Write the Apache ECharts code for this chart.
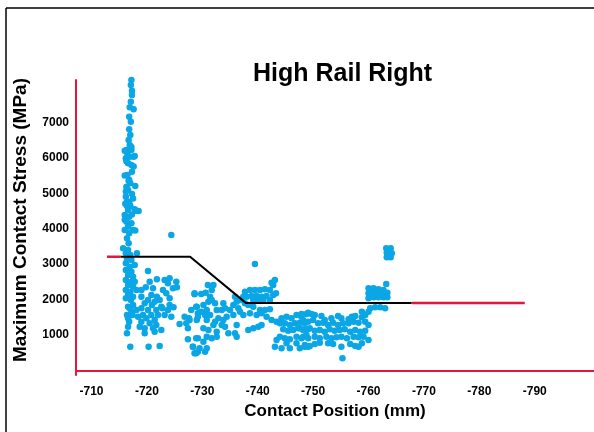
<!DOCTYPE html>
<html>
<head>
<meta charset="utf-8">
<script src="https://cdn.jsdelivr.net/npm/echarts@6/dist/echarts.min.js"></script>
<style>html,body{margin:0;padding:0;background:#fff}#c{width:594px;height:432px}</style>
</head>
<body>
<div id="c"></div>
<script>
const titleText = 'High Rail Right';
const xAxisName = 'Contact Position (mm)';
const yAxisName = 'Maximum Contact Stress (MPa)';
const xTicks = [-710, -720, -730, -740, -750, -760, -770, -780, -790];
const yTicks = [1000, 2000, 3000, 4000, 5000, 6000, 7000];

// threshold line
const thresholdX = [-712.8, -715.2, -727.8, -737.9, -767.8, -788.2];
const thresholdY = [3210, 3210, 3210, 1900, 1900, 1900];

// measured contact points, grouped by region
const spikePoints = [
[-717.2,8568],[-717.0,8427],[-717.2,8192],[-717.1,8051],[-717.3,7891],[-717.3,7769],[-717.1,7581],[-716.9,7422],[-717.6,7366],[-716.8,7158],[-717.1,7017],[-716.8,6801],[-717.0,6641],[-716.7,6500],[-716.9,6359],[-716.3,6218],[-717.2,6218],[-716.2,5983],[-716.9,6030],[-717.6,6030],[-716.6,5842],[-717.2,5795],[-717.3,5607],[-716.5,5513],[-716.8,5372],[-717.0,5278],[-716.3,5184],[-716.6,5090],[-717.3,4977],[-716.2,4902],[-716.8,4761],[-716.4,4639],[-717.0,4639],[-717.8,4545],
[-716.0,6200],[-717.8,6050],[-716.3,5900],[-717.6,5750],[-716.0,5500],[-717.9,5200],[-716.2,5050],[-717.5,4850],[-716.1,4700],[-717.3,4400],[-716.0,4250],[-717.9,3950],[-718.5,4500],[-716.5,6100],[-717.2,6300],[-716.7,5350],
[-716.4,4761],[-716.9,4667],[-716.6,4526],[-718.0,4507],[-716.0,4385],[-716.8,4338],[-716.3,4197],[-717.2,4150],[-716.6,4056],[-716.0,3962],[-717.5,3962],[-716.8,3868],[-716.4,3727],[-716.7,3586],[-715.7,3445],[-716.6,3398],[-716.2,3304],[-717.0,3257],[-718.2,3304],[-716.4,3163],[-717.2,3116],[-716.2,3022],[-716.9,2928],[-717.8,2975],[-716.2,2834],[-717.2,2787],[-716.6,2693],[-717.5,2646],[-716.2,2552],[-717.2,2505],[-717.8,2505],[-716.6,2411],[-717.5,2364],[-716.2,2270],[-717.0,2223],[-718.1,2270],[-716.6,2129],[-717.5,2082],[-716.2,2035],[-717.1,1988],[-716.8,2082],
[-716.6,1800],[-717.2,1659],[-716.4,1565],[-717.5,1847],[-716.8,1377]
];
const leftClusterPoints = [
[-720.2,2806],[-719.0,2270],[-720.5,2505],[-721.8,2571],[-719.8,2345],[-721.1,2317],[-723.2,2552],[-724.1,2599],[-725.3,2505],[-723.8,2458],[-724.7,2317],[-725.4,2345],[-722.9,2270],[-720.8,2129],[-721.8,2082],[-722.3,1988],[-724.1,2035],[-723.5,2176],[-719.0,2082],[-720.2,1988],[-721.4,1941],[-719.6,1894],[-720.9,1847],[-722.6,1800],[-724.1,1847],[-724.8,1781],[-716.9,1753],[-718.1,1706],[-719.0,1753],[-720.2,1706],[-721.7,1706],[-722.8,1753],[-723.8,1706],[-717.4,1565],[-718.4,1518],[-719.3,1565],[-720.8,1565],[-722.0,1565],[-723.2,1565],[-724.4,1518],[-716.6,1471],[-719.9,1471],[-721.4,1424],[-719.0,1377],[-720.5,1330],[-721.7,1283],[-718.7,1236],[-719.6,1189],[-721.1,1189],[-722.6,1142],[-716.6,1236],[-716.4,1048],[-719.6,1048],[-721.4,1095],[-717.0,672],[-720.3,672],[-722.3,691],[-724.4,3821],
[-726.8,1518],[-727.6,1471],[-725.9,1311],[-727.1,1330],[-727.4,1189],[-728.6,2148],[-729.0,1800],[-729.2,1612],[-729.0,1424],[-727.4,879],[-728.3,672],[-728.6,484],[-729.2,531],[-729.2,907]
];
const midClusterPoints = [
[-739.5,3003],[-728.6,2176],[-729.8,2157],[-730.6,2195],[-731.0,2411],[-732.0,2411],[-731.7,2270],[-731.4,2082],[-728.9,1800],[-730.2,1847],[-730.8,1706],[-731.1,1941],[-731.7,1988],[-732.3,1894],[-729.8,1659],[-729.2,1518],[-730.5,1565],[-731.4,1565],[-732.6,1706],[-733.8,1894],[-733.5,1706],[-734.1,1753],[-735.0,1706],[-735.6,1847],[-735.9,2082],[-736.2,1941],[-736.5,1753],[-736.8,1988],[-737.4,2082],[-737.7,1894],[-736.8,1659],[-737.4,1565],[-735.6,1565],[-734.4,1518],[-733.8,1424],[-732.9,1471],[-732.3,1377],[-730.8,1424],[-730.2,1189],[-731.1,1142],[-732.0,1283],[-732.6,1095],[-733.5,1283],[-734.1,1236],[-734.7,1048],[-735.9,1048],[-736.2,1283],[-730.8,954],[-731.7,907],[-732.6,954],[-728.9,907],[-730.2,813],[-728.3,672],[-729.5,625],[-730.8,625],[-728.9,484],[-730.5,531],[-727.7,1424],[-728.0,1706],[-736.2,954],
[-737.7,2223],[-738.6,2270],[-739.5,2270],[-740.4,2270],[-741.3,2289],[-742.2,2270],[-742.8,2411],[-743.1,2552],[-742.5,2477],[-738.0,2082],[-738.9,2101],[-739.8,2101],[-740.7,2082],[-741.6,2101],[-742.8,2129],[-743.3,2176],[-739.2,1988],[-740.1,1988],[-741.0,1969],[-742.2,1988],[-738.3,1847],[-739.2,1800],[-740.4,1706],[-741.3,1706],[-742.2,1725],[-738.6,1612],[-739.8,1565],[-740.7,1612],[-741.6,1518],[-742.5,1424],[-743.4,1377],[-744.0,1330],[-738.3,1142],[-739.2,1189],[-740.1,1236],[-740.7,1283]
];
const rightClusterPoints = [
[-744.3,1471],[-745.2,1518],[-746.1,1471],[-747.0,1565],[-747.9,1518],[-748.8,1593],[-744.9,1330],[-745.8,1283],[-746.7,1330],[-747.6,1349],[-748.5,1330],[-744.6,1161],[-745.5,1123],[-746.4,1142],[-747.3,1189],[-748.2,1142],[-749.1,1161],[-744.0,954],[-744.9,907],[-745.8,879],[-747.0,954],[-747.9,907],[-748.8,1001],[-743.4,860],[-745.2,766],[-747.0,766],[-748.5,719],[-743.1,672],[-744.3,625],[-745.8,625],[-747.6,625],[-749.1,672],
[-747.9,1593],[-749.1,1631],[-749.7,1593],[-750.3,1565],[-751.5,1537],[-752.1,1424],[-753.3,1471],[-754.5,1537],[-755.1,1471],[-756.4,1443],[-757.0,1518],[-757.6,1537],[-758.8,1499],[-759.4,1565],[-758.8,1659],[-760.0,1659],
[-748.2,1424],[-749.1,1377],[-750.0,1424],[-750.9,1330],[-751.8,1349],[-752.7,1283],[-753.6,1349],[-754.5,1283],[-755.4,1330],[-756.4,1330],[-757.3,1377],[-758.2,1349],[-759.4,1377],[-760.0,1283],
[-747.6,1189],[-748.5,1161],[-749.4,1189],[-750.3,1123],[-751.2,1142],[-752.1,1095],[-753.0,1161],[-753.9,1123],[-754.8,1142],[-755.7,1161],[-756.7,1095],[-757.6,1142],[-758.5,1095],[-759.4,1123],
[-748.2,954],[-749.1,907],[-750.3,954],[-751.2,907],[-752.4,954],[-753.3,907],[-754.2,935],[-755.1,954],[-756.1,907],[-757.3,954],[-758.2,935],[-759.1,954],[-760.0,860],
[-748.5,672],[-749.4,691],[-750.3,747],[-751.2,785],[-752.7,766],[-753.6,747],[-755.1,672],[-756.7,747],[-757.6,691],[-758.2,672],[-758.8,766],[-755.3,343]
];
const endClusterPoints = [
[-763.2,3445],[-764.0,3445],[-763.3,3323],[-764.2,3304],[-763.3,3191],[-764.0,3191],
[-760.0,2317],[-760.9,2317],[-761.8,2289],[-762.7,2270],[-763.2,2439],[-760.0,2176],[-760.9,2176],[-761.8,2195],[-762.7,2176],[-763.4,2195],[-760.0,2035],[-760.9,2063],[-761.8,2063],[-762.7,2063],[-763.4,2063],
[-761.2,1781],[-762.1,1781],[-763.0,1753],[-760.3,1753]
];

const chart = echarts.init(document.getElementById('c'));
const blue = '#0aa6e6';
const red = '#e3173d';
const scatterSeries = (name, data) => ({
  name, type: 'scatter', data, symbolSize: 6.5, z: 2,
  itemStyle: { color: blue, opacity: 1 }
});
const thresholdPts = thresholdX.map((x, i) => [x, thresholdY[i]]);
const plain = v => String(v);

chart.setOption({
  animation: false,
  backgroundColor: '#fff',
  title: {
    text: titleText, left: 248, top: 57,
    textStyle: { fontFamily: 'Liberation Sans, Arial, sans-serif', fontWeight: 'bold', fontSize: 25, color: '#000' }
  },
  grid: { left: 76, right: 0, top: 80, bottom: 57, containLabel: false },
  xAxis: {
    type: 'value', inverse: true, min: -800.7, max: -707.2,
    name: xAxisName, nameLocation: 'middle', nameGap: 24,
    nameTextStyle: { fontFamily: 'Liberation Sans, Arial, sans-serif', fontWeight: 'bold', fontSize: 17, color: '#000' },
    axisLine: { show: true, lineStyle: { color: red, width: 2 } },
    axisTick: { show: false },
    splitLine: { show: false },
    axisLabel: {
      customValues: xTicks, margin: 11, formatter: plain,
      fontFamily: 'Liberation Sans, Arial, sans-serif', fontWeight: 'bold', fontSize: 12, color: '#000'
    }
  },
  yAxis: {
    type: 'value', min: -127, max: 8192,
    name: yAxisName, nameLocation: 'middle', nameGap: 46,
    nameTextStyle: { fontFamily: 'Liberation Sans, Arial, sans-serif', fontWeight: 'bold', fontSize: 19, color: '#000', padding: [0, 0, 0, 15] },
    axisLine: { show: true, lineStyle: { color: red, width: 2 } },
    axisTick: { show: false },
    splitLine: { show: false },
    axisLabel: {
      customValues: yTicks, margin: 7, formatter: plain,
      fontFamily: 'Liberation Sans, Arial, sans-serif', fontWeight: 'bold', fontSize: 12, color: '#000'
    }
  },
  graphic: [
    { type: 'line', shape: { x1: 6, y1: 8, x2: 594, y2: 8 }, style: { stroke: '#000', lineWidth: 1.5 }, silent: true },
    { type: 'line', shape: { x1: 6, y1: 8, x2: 6, y2: 432 }, style: { stroke: '#000', lineWidth: 1.5 }, silent: true }
  ],
  series: [
    scatterSeries('spike', spikePoints),
    scatterSeries('left', leftClusterPoints),
    scatterSeries('mid', midClusterPoints),
    scatterSeries('right', rightClusterPoints),
    scatterSeries('end', endClusterPoints),
    { name: 'threshold', type: 'line', data: thresholdPts.slice(1, 5), showSymbol: false, z: 5,
      lineStyle: { color: '#000', width: 2 } },
    { name: 'thresholdStart', type: 'line', data: thresholdPts.slice(0, 2), showSymbol: false, z: 5,
      lineStyle: { color: red, width: 2.5 } },
    { name: 'thresholdEnd', type: 'line', data: thresholdPts.slice(4, 6), showSymbol: false, z: 5,
      lineStyle: { color: red, width: 2.5 } }
  ]
});
</script>
</body>
</html>
